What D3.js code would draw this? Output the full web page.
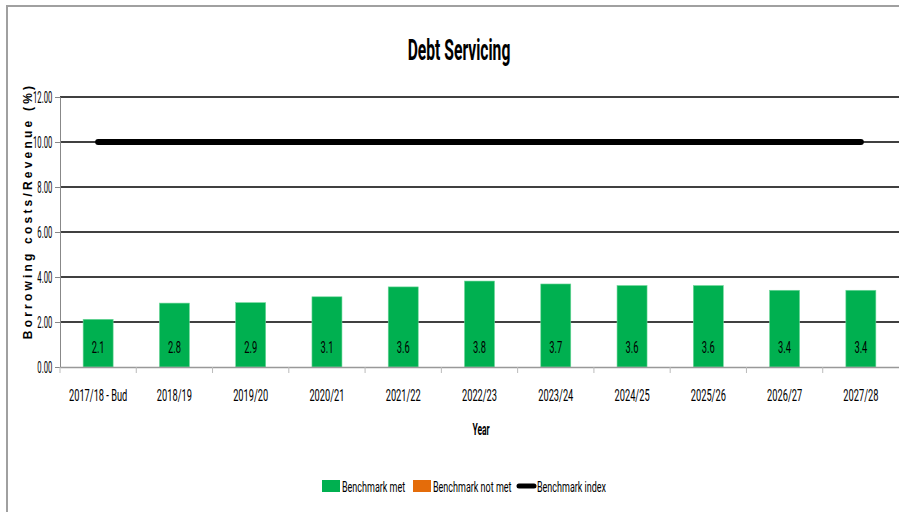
<!DOCTYPE html>
<html>
<head>
<meta charset="utf-8">
<script src="https://cdn.jsdelivr.net/npm/d3@7"></script>
<style>
    body { margin: 0; background: #fff; }
    svg text { font-family: Roboto, "Liberation Sans", sans-serif; }
</style>
</head>
<body>
<div id="chart"></div>
<script>
const years = ["2017/18 - Bud", "2018/19", "2019/20", "2020/21", "2021/22", "2022/23",
    "2023/24", "2024/25", "2025/26", "2026/27", "2027/28"];
const ratio = [2.12, 2.84, 2.86, 3.12, 3.56, 3.82, 3.69, 3.62, 3.62, 3.41, 3.41];
const benchmark = [10, 10, 10, 10, 10, 10, 10, 10, 10, 10, 10];
const yTicks = [0, 2, 4, 6, 8, 10, 12];
const legendItems = [
    { label: "Benchmark met", color: "#00b050", type: "rect" },
    { label: "Benchmark not met", color: "#e46c0a", type: "rect" },
    { label: "Benchmark index", color: "#000", type: "line" }
];

const W = 899, H = 512;
const margin = { top: 97, right: 0, bottom: 145, left: 60 };
const width = W - margin.left - margin.right,
    height = H - margin.top - margin.bottom;

// the original uses a tall narrow font, so squeeze text horizontally
const narrow = (sel, k, x, y) => sel.attr("transform", `translate(${x},${y}) scale(${k},1)`);

const svg = d3.select("#chart").append("svg")
    .attr("width", W)
    .attr("height", H);

// outer frame
svg.append("path")
    .attr("d", `M7,${H} V6 H${W}`)
    .attr("fill", "none")
    .attr("stroke", "#a0a0a0")
    .attr("stroke-width", 2);

svg.append("text")
    .call(narrow, 0.54, 459, 60)
    .attr("text-anchor", "middle")
    .style("font-size", "29px")
    .style("font-weight", "bold")
    .text("Debt Servicing");

const g = svg.append("g")
    .attr("transform", `translate(${margin.left},${margin.top})`);

const x = d3.scaleBand().domain(years).range([0, width]);
const y = d3.scaleLinear().domain([0, 12]).range([height, 0]);

// gridlines
g.selectAll(".grid")
    .data(yTicks.filter(d => d > 0))
    .enter()
    .append("line")
    .attr("x1", 0)
    .attr("x2", width)
    .attr("y1", d => y(d))
    .attr("y2", d => y(d))
    .attr("stroke", "#000")
    .attr("stroke-width", 1.5);

// y axis
const yAxis = g.append("g")
    .call(d3.axisLeft(y).tickValues(yTicks).tickFormat(d3.format(".2f")).tickSize(5).tickPadding(11));
yAxis.select(".domain").attr("stroke", "#888");
yAxis.selectAll(".tick line").attr("stroke", "#888");
yAxis.selectAll("text")
    .style("font-size", "16px")
    .attr("fill", "#000")
    .attr("transform", "scale(0.48,1)");

// bars
g.selectAll(".bar")
    .data(ratio)
    .enter()
    .append("rect")
    .attr("class", "bar")
    .attr("x", (d, i) => x(years[i]) + x.bandwidth() / 2 - 15)
    .attr("y", d => y(d))
    .attr("width", 30)
    .attr("height", d => height - y(d))
    .attr("fill", "#00b050")
    .attr("stroke", "#6fd89a")
    .attr("stroke-width", 0.6);

g.selectAll(".lbl")
    .data(ratio)
    .enter()
    .append("text")
    .each(function (d, i) {
        d3.select(this).call(narrow, 0.55, x(years[i]) + x.bandwidth() / 2, height - 14);
    })
    .attr("text-anchor", "middle")
    .style("font-size", "17px")
    .text(d => d3.format(".1f")(d));

// x axis
const xAxis = g.append("g")
    .attr("transform", `translate(0,${height})`)
    .call(d3.axisBottom(x).tickSize(0).tickPadding(23));
xAxis.select(".domain").attr("stroke", "#999").attr("stroke-width", 1.5);
xAxis.selectAll("text")
    .style("font-size", "16px")
    .attr("fill", "#000")
    .attr("transform", "scale(0.58,1)");
g.selectAll(".xtick")
    .data(years)
    .enter()
    .append("line")
    .attr("x1", d => x(d))
    .attr("x2", d => x(d))
    .attr("y1", height)
    .attr("y2", height + 6)
    .attr("stroke", "#bbb");

// benchmark line
const line = d3.line()
    .x((d, i) => x(years[i]) + x.bandwidth() / 2)
    .y(d => y(d));
g.append("path")
    .datum(benchmark)
    .attr("d", line)
    .attr("fill", "none")
    .attr("stroke", "#000")
    .attr("stroke-width", 6)
    .attr("stroke-linecap", "round");

// axis titles
svg.append("text")
    .attr("transform", `translate(32,211) rotate(-90)`)
    .attr("text-anchor", "middle")
    .style("font-family", "'Liberation Sans', sans-serif")
    .style("font-size", "12px")
    .style("font-weight", "bold")
    .style("letter-spacing", "3.2px")
    .text("Borrowing costs/Revenue (%)");

svg.append("text")
    .call(narrow, 0.5, 481, 435)
    .attr("text-anchor", "middle")
    .style("font-size", "17px")
    .style("font-weight", "bold")
    .text("Year");

// legend
const legendX = [322, 413, 517];
const legend = svg.selectAll(".legend")
    .data(legendItems)
    .enter()
    .append("g")
    .attr("transform", (d, i) => `translate(${legendX[i]},486)`);

legend.filter(d => d.type === "rect")
    .append("rect")
    .attr("x", 0)
    .attr("y", -6)
    .attr("width", 18)
    .attr("height", 12)
    .attr("fill", d => d.color);

legend.filter(d => d.type === "line")
    .append("line")
    .attr("x1", 2)
    .attr("x2", 17)
    .attr("stroke", d => d.color)
    .attr("stroke-width", 5)
    .attr("stroke-linecap", "round");

legend.append("text")
    .call(narrow, 0.6, 20, 6)
    .style("font-size", "15px")
    .text(d => d.label);
</script>
</body>
</html>
